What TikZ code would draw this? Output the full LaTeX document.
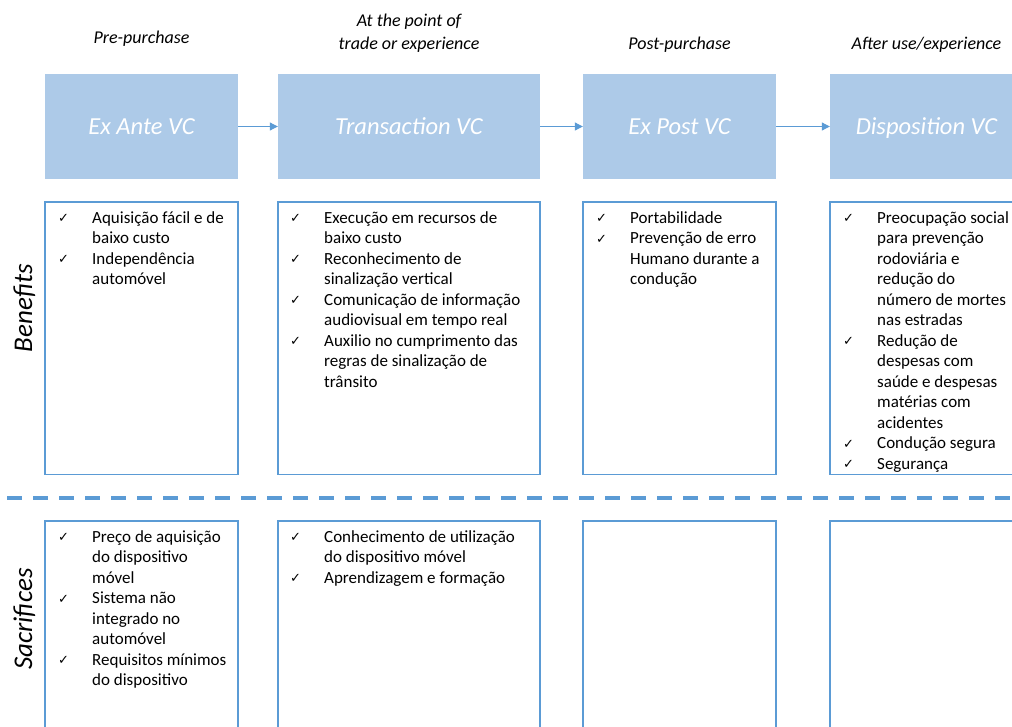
\documentclass[tikz,border=0pt]{standalone}
\usepackage{fontspec}
\setmainfont{Carlito}
\newfontfamily\symbolfont{DejaVu Sans}
\usetikzlibrary{arrows.meta}

\definecolor{stagefill}{RGB}{173,202,232}
\definecolor{accent}{RGB}{91,155,213}

% check mark bullet and list rows
\newcommand\ckmark{\makebox[34pt][l]{\raisebox{0.5pt}{\symbolfont\fontsize{13}{13}\selectfont ✓}}}
\newcommand\ckitem[1]{\ckmark & #1\\}
\newcommand\ckcont[1]{& #1\\}
\newenvironment{checklist}{\begin{tabular}[t]{@{}l@{}l@{}}}{\end{tabular}}

\tikzset{
  stage/.style={fill=stagefill, draw=none, minimum height=105pt, inner sep=0pt,
    text height=21pt, text depth=5pt,
    text=white, font=\fontsize{24.5}{29}\selectfont\itshape},
  phase/.style={anchor=base, inner sep=0pt, font=\fontsize{18}{22.6}\selectfont\itshape},
  flow/.style={draw=accent, line width=1pt, -{Triangle[length=8pt,width=8pt]}},
  panel/.style={draw=accent, line width=1.4pt, inner sep=0pt},
  items/.style={anchor=base west, inner sep=0pt, align=left, font=\fontsize{17}{20.5}\selectfont},
  rowlabel/.style={rotate=90, anchor=base, inner sep=0pt, font=\fontsize{27}{32}\selectfont\itshape},
  divider/.style={draw=accent, line width=4pt, dash pattern=on 15pt off 11pt}
}

\begin{document}
\begin{tikzpicture}[x=1pt, y=-1pt]
\clip (0,0) rectangle (1012,726);
\fill[white] (0,0) rectangle (1012,726);

% phase captions
\node[phase] (p1) at (141.5,43.5) {Pre-purchase};
\node[phase] (p2) at (409,49.3) {\begin{tabular}[b]{@{}c@{}}At the point of\\trade or experience\end{tabular}};
\node[phase] (p3) at (679.5,49.3) {Post-purchase};
\node[phase] (p4) at (926.5,49.3) {After use/experience};

% value-creation stages
\node[stage, minimum width=193pt] (h1) at (141.5,126.5) {Ex Ante VC};
\node[stage, minimum width=262pt] (h2) at (409,126.5) {Transaction VC};
\node[stage, minimum width=193pt] (h3) at (679.5,126.5) {Ex Post VC};
\node[stage, minimum width=193pt] (h4) at (926.5,126.5) {Disposition VC};
\draw[flow] (h1.east) -- (h2.west);
\draw[flow] (h2.east) -- (h3.west);
\draw[flow] (h3.east) -- (h4.west);

% benefit panels
\node[panel, minimum width=193pt, minimum height=272.5pt] (b1) at (141.5,338.25) {};
\node[panel, minimum width=262pt, minimum height=272.5pt] (b2) at (409,338.25) {};
\node[panel, minimum width=193pt, minimum height=272.5pt] (b3) at (679.5,338.25) {};
\node[panel, minimum width=193pt, minimum height=272.5pt] (b4) at (926.5,338.25) {};

% sacrifice panels
\node[panel, minimum width=193pt, minimum height=230pt] (s1) at (141.5,636) {};
\node[panel, minimum width=262pt, minimum height=230pt] (s2) at (409,636) {};
\node[panel, minimum width=193pt, minimum height=230pt] (s3) at (679.5,636) {};
\node[panel, minimum width=193pt, minimum height=230pt] (s4) at (926.5,636) {};

% row labels
\node[rowlabel] (lb) at (32,308) {Benefits};
\node[rowlabel] (ls) at (32,619) {Sacrifices};

% divider between benefits and sacrifices
\coordinate (dl) at (7,498);
\coordinate (dr) at (1012,498);
\draw[divider] (dl) -- (dr);

% benefit lists
\node[items] (tb1) at (58,223) {\begin{checklist}
\ckitem{Aquisição fácil e de}
\ckcont{baixo custo}
\ckitem{Independência}
\ckcont{automóvel}
\end{checklist}};

\node[items] (tb2) at (290,223) {\begin{checklist}
\ckitem{Execução em recursos de}
\ckcont{baixo custo}
\ckitem{Reconhecimento de}
\ckcont{sinalização vertical}
\ckitem{Comunicação de informação}
\ckcont{audiovisual em tempo real}
\ckitem{Auxilio no cumprimento das}
\ckcont{regras de sinalização de}
\ckcont{trânsito}
\end{checklist}};

\node[items] (tb3) at (596,223) {\begin{checklist}
\ckitem{Portabilidade}
\ckitem{Prevenção de erro}
\ckcont{Humano durante a}
\ckcont{condução}
\end{checklist}};

\node[items] (tb4) at (843,223) {\begin{checklist}
\ckitem{Preocupação social}
\ckcont{para prevenção}
\ckcont{rodoviária e}
\ckcont{redução do}
\ckcont{número de mortes}
\ckcont{nas estradas}
\ckitem{Redução de}
\ckcont{despesas com}
\ckcont{saúde e despesas}
\ckcont{matérias com}
\ckcont{acidentes}
\ckitem{Condução segura}
\ckitem{Segurança}
\end{checklist}};

% sacrifice lists
\node[items] (ts1) at (58,542) {\begin{checklist}
\ckitem{Preço de aquisição}
\ckcont{do dispositivo}
\ckcont{móvel}
\ckitem{Sistema não}
\ckcont{integrado no}
\ckcont{automóvel}
\ckitem{Requisitos mínimos}
\ckcont{do dispositivo}
\end{checklist}};

\node[items] (ts2) at (290,542) {\begin{checklist}
\ckitem{Conhecimento de utilização}
\ckcont{do dispositivo móvel}
\ckitem{Aprendizagem e formação}
\end{checklist}};
\end{tikzpicture}
\end{document}
